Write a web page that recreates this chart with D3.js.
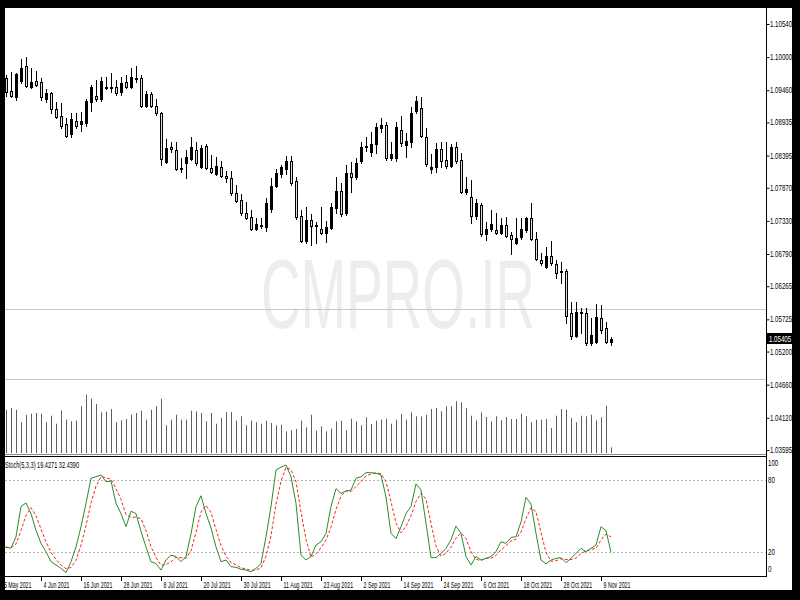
<!DOCTYPE html>
<html><head><meta charset="utf-8">
<script src="https://cdn.jsdelivr.net/npm/d3@7"></script>
<style>body{margin:0;background:#000;}svg{display:block;}</style>
</head><body><svg id="c" width="800" height="600"></svg>
<script>
// ---------- DATA ----------
const firstDay = "2021-05-25";           // first trading day on the time axis (index 0)
const xTickLabels = ["25 May 2021","4 Jun 2021","16 Jun 2021","28 Jun 2021","8 Jul 2021","20 Jul 2021","30 Jul 2021","11 Aug 2021","23 Aug 2021","2 Sep 2021","14 Sep 2021","24 Sep 2021","6 Oct 2021","18 Oct 2021","28 Oct 2021","9 Nov 2021"];
// candles: 26 May 2021 .. 11 Nov 2021
const open = [1.09660,1.09448,1.09350,1.09611,1.09855,1.09513,1.09611,1.09595,1.09317,1.09415,
1.09154,1.09040,1.08910,1.08747,1.08959,1.08910,1.08926,1.09268,1.09366,1.09317,
1.09497,1.09513,1.09513,1.09431,1.09595,1.09513,1.09643,1.09660,1.09203,1.09399,
1.09203,1.09089,1.08290,1.08535,1.08486,1.08176,1.08274,1.08339,1.08486,1.08209,
1.08551,1.08193,1.08095,1.08209,1.08062,1.08030,1.07785,1.07671,1.07459,1.07394,
1.07198,1.07263,1.07231,1.07524,1.07899,1.08095,1.08176,1.08307,1.07981,1.07410,
1.07003,1.07345,1.07263,1.07198,1.07133,1.07214,1.07541,1.07817,1.07459,1.08111,
1.08046,1.08307,1.08535,1.08453,1.08584,1.08845,1.08893,1.08356,1.08356,1.08812,
1.08567,1.08616,1.09122,1.09171,1.08698,1.08176,1.08209,1.08502,1.08323,1.08225,
1.08535,1.08323,1.07801,1.07719,1.07410,1.07589,1.07117,1.07198,1.07182,1.07133,
1.07263,1.07100,1.06970,1.07068,1.07182,1.07377,1.07035,1.06693,1.06579,1.06758,
1.06628,1.06497,1.06514,1.05829,1.05454,1.05845,1.05829,1.05340,1.05356,1.05748,
1.05585,1.05356];
const high = [1.09709,1.09757,1.09741,1.09969,1.10002,1.09823,1.09774,1.09660,1.09480,1.09431,
1.09268,1.09252,1.09007,1.09089,1.09089,1.09105,1.09317,1.09546,1.09627,1.09676,
1.09676,1.09741,1.09627,1.09676,1.09709,1.09823,1.09855,1.09709,1.09448,1.09431,
1.09317,1.09105,1.08665,1.08616,1.08616,1.08356,1.08486,1.08698,1.08616,1.08567,
1.08584,1.08405,1.08372,1.08307,1.08144,1.08144,1.07915,1.07768,1.07638,1.07508,
1.07377,1.07377,1.07703,1.08030,1.08176,1.08242,1.08388,1.08388,1.08046,1.07508,
1.07557,1.07443,1.07312,1.07557,1.07329,1.07622,1.08046,1.07948,1.08242,1.08290,
1.08356,1.08616,1.08698,1.08779,1.08926,1.09007,1.08942,1.08616,1.08942,1.09040,
1.08763,1.09187,1.09366,1.09350,1.08845,1.08421,1.08600,1.08616,1.08616,1.08584,
1.08616,1.08437,1.08046,1.07997,1.07687,1.07622,1.07312,1.07508,1.07459,1.07377,
1.07394,1.07149,1.07377,1.07377,1.07394,1.07622,1.07149,1.06807,1.06905,1.07003,
1.06693,1.06660,1.06546,1.06008,1.06008,1.05910,1.05910,1.05748,1.05976,1.05959,
1.05682,1.05438];
const low = [1.09366,1.09350,1.09301,1.09578,1.09513,1.09497,1.09529,1.09301,1.09268,1.09089,
1.09007,1.08845,1.08698,1.08698,1.08845,1.08796,1.08877,1.09122,1.09285,1.09285,
1.09480,1.09431,1.09383,1.09383,1.09497,1.09497,1.09595,1.09187,1.09187,1.09187,
1.09056,1.08242,1.08274,1.08453,1.08160,1.08127,1.08030,1.08323,1.08242,1.08193,
1.08176,1.08111,1.08078,1.08046,1.07964,1.07752,1.07638,1.07426,1.07361,1.07182,
1.07182,1.07214,1.07166,1.07475,1.07883,1.08046,1.08095,1.07915,1.07361,1.06986,
1.06970,1.06937,1.06970,1.07117,1.06986,1.07198,1.07459,1.07410,1.07426,1.07801,
1.08013,1.08274,1.08470,1.08388,1.08437,1.08779,1.08323,1.08323,1.08307,1.08551,
1.08372,1.08535,1.09089,1.08698,1.08225,1.08111,1.08127,1.08209,1.08193,1.08209,
1.08274,1.07785,1.07768,1.07296,1.07361,1.07084,1.07019,1.07166,1.07117,1.07117,
1.07068,1.06791,1.06954,1.07035,1.07149,1.07019,1.06693,1.06611,1.06562,1.06611,
1.06399,1.06318,1.05666,1.05405,1.05438,1.05503,1.05307,1.05307,1.05340,1.05503,
1.05340,1.05307];
const close = [1.09431,1.09366,1.09725,1.09823,1.09529,1.09595,1.09546,1.09350,1.09415,1.09154,
1.09024,1.08877,1.08714,1.08991,1.08877,1.08959,1.09285,1.09513,1.09317,1.09611,
1.09513,1.09497,1.09415,1.09578,1.09513,1.09676,1.09660,1.09203,1.09399,1.09203,
1.09089,1.08339,1.08519,1.08502,1.08176,1.08193,1.08372,1.08535,1.08274,1.08519,
1.08193,1.08127,1.08225,1.08062,1.08030,1.07785,1.07655,1.07459,1.07377,1.07198,
1.07280,1.07247,1.07622,1.07899,1.08111,1.08209,1.08307,1.07948,1.07394,1.07003,
1.07345,1.07247,1.07247,1.07133,1.07231,1.07557,1.07817,1.07443,1.08111,1.08046,
1.08274,1.08535,1.08551,1.08584,1.08861,1.08893,1.08356,1.08421,1.08861,1.08600,
1.08633,1.09089,1.09285,1.08714,1.08258,1.08209,1.08502,1.08307,1.08225,1.08535,
1.08307,1.07801,1.07850,1.07410,1.07622,1.07117,1.07198,1.07280,1.07133,1.07263,
1.07084,1.07035,1.07051,1.07198,1.07377,1.07035,1.06709,1.06644,1.06758,1.06644,
1.06481,1.06514,1.05780,1.05454,1.05845,1.05829,1.05340,1.05470,1.05764,1.05552,
1.05356,1.05405];
const volume = [43300,45000,43300,30700,38300,39300,40000,39300,30700,37300,
29300,42300,33300,31700,32300,46700,58300,54300,49000,40700,
41300,44000,30700,32700,34000,38300,40000,42300,33300,43300,
46700,54300,27700,33300,38300,33300,33300,42300,41700,40000,
31700,40000,29300,35000,40700,41000,32300,36700,27700,32300,
30700,29300,32300,30000,27700,28300,21700,22700,24000,32300,
25700,38300,22300,26700,21700,24300,31700,32300,22700,34300,
31700,27700,35700,29000,32300,33300,34300,29300,33300,39000,
33300,40700,36700,36700,38300,44000,45000,41700,46700,46700,
51700,50700,45000,37300,32700,40700,36000,31700,36700,32700,
36000,34000,34000,39300,36700,30700,33300,33300,34000,25000,
37300,44000,43300,35000,30700,37300,36700,38300,32700,35700,
47300,5700];
// Stochastic (5,3,3): 25 May 2021 .. 11 Nov 2021
const stochMain = [22.8,24,23,32.6,58,61,52,38,27,20,11.6,8.8,6,2.4,11.6,24,41,60.6,81.7,83,
84.5,78.8,79.4,60.6,52,41,54,52,37,24,11.6,10,4.6,13,17,16,11.6,16,35,58,
67,52,40,24,11.6,13,7.4,6.9,5.2,4.6,3.2,6,10,32.6,58,88.7,91,92.9,83,60.6,
17,13,16,25.6,28.4,35.4,58,73,69,71,71.8,81.7,83,86.4,86.4,85.9,84.5,66,35.4,31,
41,52,58,77,72,44,15,15,18.6,22.8,30,41.6,35.4,16,8.8,16,13,14.4,16,20,
28.4,27,32,32.6,45,65.7,60,35.4,13,9.7,13,14.4,15,10.8,14.4,18.6,22.8,20,22.8,25.6,
41,37.7,19.4271];
const stochSignal = [23,23.5,23.3,26.5,37.9,50.5,57,50.3,39,28.3,19.5,13.5,8.8,5.7,6.7,12.7,25.5,41.9,61.1,75.1,
83.1,82.1,80.9,72.9,64,51.2,49,49,47.7,37.7,24.2,15.2,8.7,9.2,11.5,15.3,14.9,14.5,20.9,36.3,
53.3,59,53,38.7,25.2,16.2,10.7,9.1,6.5,5.6,4.3,4.6,6.4,16.2,33.5,59.8,79.2,90.9,89,78.8,
53.5,30.2,15.3,18.2,23.3,29.8,40.6,55.5,66.7,71,70.6,74.8,78.8,83.7,85.3,86.2,85.6,78.8,62,44.1,
35.8,41.3,50.3,62.3,69,64.3,43.7,24.7,16.2,18.8,23.8,31.5,35.7,31,20.1,13.6,12.6,14.5,14.5,16.8,
21.5,25.1,29.1,30.5,36.5,47.8,56.9,53.7,36.1,19.4,11.9,12.4,14.1,13.4,13.4,14.6,18.6,20.5,21.9,22.8,
29.8,34.8,32.4390];
const priceTicks = [1.10540,1.10000,1.09460,1.08935,1.08395,1.07870,1.07330,1.06790,1.06265,1.05725,1.05200,1.04660,1.04120,1.03595];
const horizontalLevels = [1.05878,1.04737];
const stochLevels = [80,20];
const stochTickLabels = [100,80,20,0];
const lastPrice = 1.05405;
const stochTitle = "Stoch(5,3,3)";
const watermark = "CMPRO.IR";

// ---------- LAYOUT ----------
const svg = d3.select("#c");
const L = 5, R = 766, T = 8, MB = 454, ST = 456, SB = 576;
const fontF = "'Liberation Sans', Arial, sans-serif";
const SX = 0.66;

// trading days
const parse = d3.utcParse("%Y-%m-%d");
const fmt = d3.utcFormat("%-d %b %Y");
const days = [];
for (let d = parse(firstDay); days.length < 123; d = d3.utcDay.offset(d, 1)) {
  const wd = d.getUTCDay();
  if (wd !== 0 && wd !== 6) days.push(d);
}
const dayIndex = new Map(days.map((d, i) => [fmt(d), i]));

const x = d3.scaleLinear().domain([0, 122]).range([1, 611]);
const y = d3.scaleLinear().domain([1.03595, 1.10540]).range([450, 24]);
const yv = d3.scaleLinear().domain([0, 100000]).range([453, 353]);
const ys = d3.scaleLinear().domain([0, 100]).range([575.5, 456.5]);
const px = v => Math.round(v);

svg.append("rect").attr("width", 800).attr("height", 600).attr("fill", "#000");
svg.append("rect").attr("x", L).attr("y", T).attr("width", 792 - L).attr("height", 590 - T).attr("fill", "#fff");

const defs = svg.append("defs");
defs.append("clipPath").attr("id", "cm").append("rect").attr("x", L).attr("y", T).attr("width", R - L).attr("height", MB - T);
defs.append("clipPath").attr("id", "cs").append("rect").attr("x", L).attr("y", ST + 1).attr("width", R - L).attr("height", SB - ST - 1);

// watermark
svg.append("text").attr("x", 398).attr("y", 328).attr("text-anchor", "middle")
  .attr("font-family", fontF).attr("font-size", 98).attr("fill", "#ededed")
  .attr("textLength", 274).attr("lengthAdjust", "spacingAndGlyphs").text(watermark);

const main = svg.append("g").attr("clip-path", "url(#cm)");

// horizontal levels
main.selectAll("line.lvl").data(horizontalLevels).join("line")
  .attr("x1", L).attr("x2", R).attr("y1", d => px(y(d)) - 0.5).attr("y2", d => px(y(d)) - 0.5)
  .attr("stroke", "#c8c8c8").attr("stroke-width", 1);

// volumes
main.selectAll("line.vol").data(volume).join("line")
  .attr("x1", (d, i) => px(x(i + 1)) + 0.5).attr("x2", (d, i) => px(x(i + 1)) + 0.5)
  .attr("y1", yv(0)).attr("y2", d => yv(d)).attr("stroke", "#5f5f5f").attr("stroke-width", 1);

// candles
const candles = open.map((o, k) => ({i: k + 1, o, h: high[k], l: low[k], c: close[k]}));
const cg = main.selectAll("g.c").data(candles).join("g");
cg.append("line")
  .attr("x1", d => px(x(d.i)) + 0.5).attr("x2", d => px(x(d.i)) + 0.5)
  .attr("y1", d => px(y(d.h))).attr("y2", d => px(y(d.l)) + 1)
  .attr("stroke", "#000").attr("stroke-width", 1);
cg.append("rect")
  .attr("x", d => px(x(d.i)) - 0.5).attr("width", 2)
  .attr("y", d => px(y(Math.max(d.o, d.c))) + 0.5)
  .attr("height", d => Math.max(0, px(y(Math.min(d.o, d.c))) - px(y(Math.max(d.o, d.c)))))
  .attr("fill", d => d.c >= d.o ? "#000" : "#e9d6d6").attr("stroke", "#000").attr("stroke-width", 1);

// stochastic panel
const sg = svg.append("g").attr("clip-path", "url(#cs)");
sg.selectAll("line.sl").data(stochLevels).join("line")
  .attr("x1", L).attr("x2", R).attr("y1", d => px(ys(d)) + 0.5).attr("y2", d => px(ys(d)) + 0.5)
  .attr("stroke", "#b4b4b4").attr("stroke-dasharray", "2,2");
const sline = d3.line().x((d, i) => x(i)).y(d => ys(d));
sg.append("path").attr("d", sline(stochSignal)).attr("fill", "none").attr("stroke", "#ff2020")
  .attr("stroke-width", 1).attr("stroke-dasharray", "3,2");
sg.append("path").attr("d", sline(stochMain)).attr("fill", "none").attr("stroke", "#2a8c2a").attr("stroke-width", 1);

// frames
svg.append("line").attr("x1", L).attr("x2", R + 1).attr("y1", MB + 0.5).attr("y2", MB + 0.5).attr("stroke", "#888");
svg.append("line").attr("x1", L).attr("x2", R + 1).attr("y1", ST + 0.5).attr("y2", ST + 0.5).attr("stroke", "#000");
svg.append("line").attr("x1", L).attr("x2", R + 1).attr("y1", SB + 0.5).attr("y2", SB + 0.5).attr("stroke", "#000");
svg.append("line").attr("x1", R + 0.5).attr("x2", R + 0.5).attr("y1", T).attr("y2", SB + 1).attr("stroke", "#000");

function label(g, tx, ty, str, fill, sx) {
  g.append("text").attr("transform", `translate(${tx},${ty}) scale(${sx || SX},1)`)
    .attr("font-family", fontF).attr("font-size", 8.5).attr("fill", fill || "#000").text(str);
}
const axisG = svg.append("g");
// price axis (D3 axis for ticks)
const pa = axisG.append("g").attr("transform", `translate(${R + 0.5},0)`)
  .call(d3.axisRight(y).tickValues(priceTicks).tickSize(3).tickFormat(""));
pa.select(".domain").remove();
pa.selectAll("line").attr("stroke", "#000");
priceTicks.forEach(v => label(axisG, R + 4, y(v) + 3, d3.format(".5f")(v), "#000", 0.72));
// last price box
axisG.append("rect").attr("x", R + 1).attr("y", px(y(lastPrice)) - 6).attr("width", 25).attr("height", 11).attr("fill", "#000");
label(axisG, R + 3, y(lastPrice) + 3, d3.format(".5f")(lastPrice), "#fff", 0.72);

// stoch axis
stochTickLabels.forEach(v => {
  const yy = v === 100 ? 466 : v === 0 ? 572 : ys(v) + 3;
  label(axisG, R + 2, yy, String(v), "#000", 0.72);
});
// stoch title
label(axisG, L, 468, `${stochTitle} ${d3.format(".4f")(stochMain[stochMain.length - 1])} ${d3.format(".4f")(stochSignal[stochSignal.length - 1])}`, "#000", SX);

// time axis
const xa = axisG.append("g");
xTickLabels.forEach((s, k) => {
  const i = dayIndex.get(s);
  const xx = px(x(i)) + 0.5;
  xa.append("line").attr("x1", xx).attr("x2", xx).attr("y1", SB + 1).attr("y2", SB + 5).attr("stroke", "#000");
  label(xa, k === 0 ? xx - 0.5 : xx + 2, 588, s, "#000", 0.62);
});

// outer black border on top of everything (clips first date label)
svg.append("rect").attr("x", 0).attr("y", 0).attr("width", L).attr("height", 600).attr("fill", "#000");
svg.append("rect").attr("x", 792).attr("y", 0).attr("width", 8).attr("height", 600).attr("fill", "#000");
</script></body></html>
